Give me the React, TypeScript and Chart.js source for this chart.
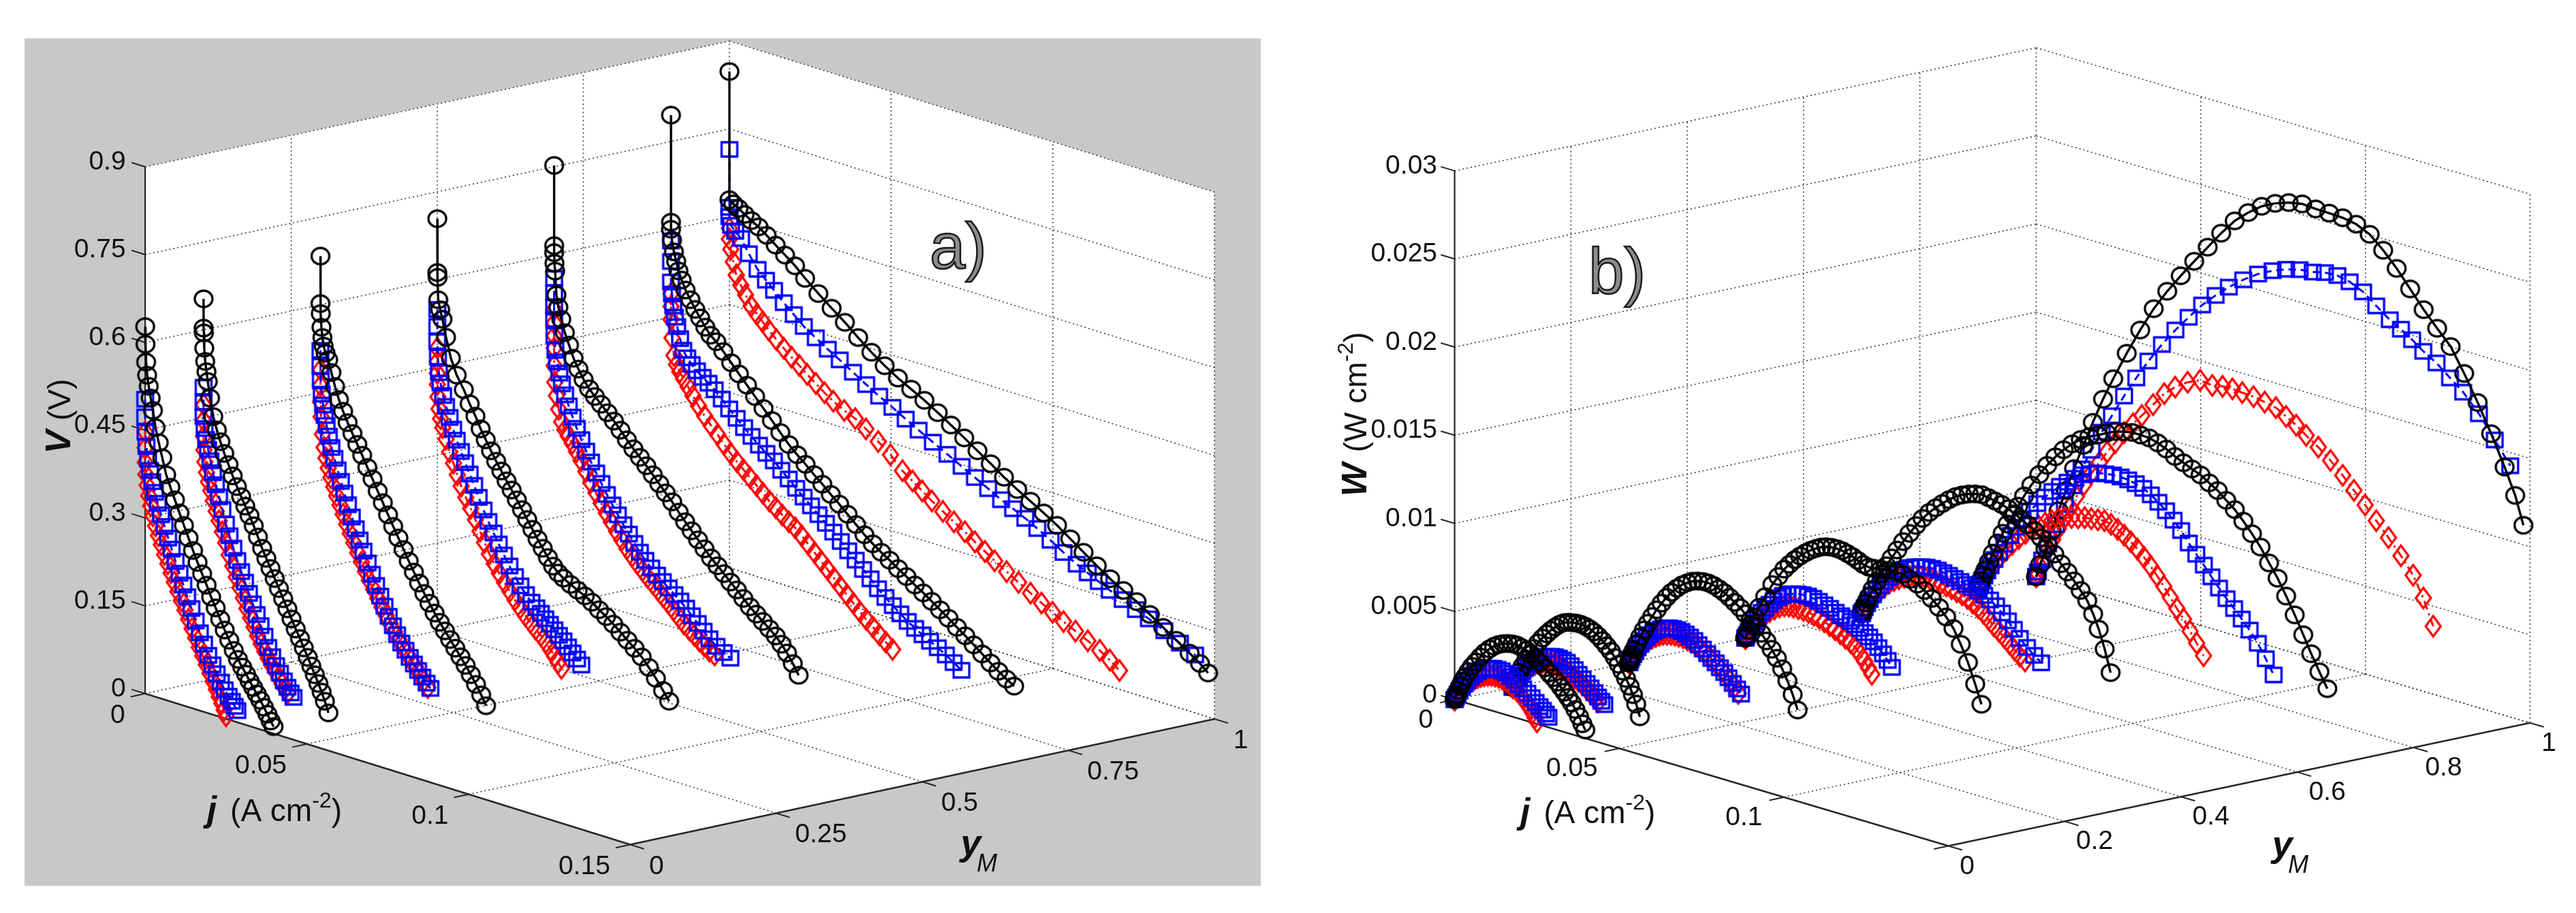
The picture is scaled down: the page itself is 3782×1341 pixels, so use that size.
import { useEffect, useRef } from "react";
import { Chart, registerables } from "chart.js";

Chart.register(...registerables);

const PAGE_H = 1341;
const HALF_W = 1891;
const FONT = '"Liberation Sans", Arial, Helvetica, sans-serif';

// methanol fraction of each group of curves
const yMGroups = [0, 0.1, 0.3, 0.5, 0.7, 0.9, 1.0];

// black circles: current density j (A cm-2) and cell voltage V (V)
const circleJ = [
  [0, 0.0001, 0.0003, 0.0006, 0.0011, 0.0017, 0.0024, 0.0032, 0.0042, 0.0053, 0.0065, 0.0078, 0.0092, 0.0106, 0.012, 0.0134, 0.0148, 0.0162, 0.0176, 0.019, 0.0204, 0.0218, 0.0232, 0.0246, 0.026, 0.0274, 0.0287, 0.03, 0.0312, 0.0323, 0.0334, 0.0345, 0.0356, 0.0367, 0.0378, 0.0388, 0.0397],
  [0, 0, 0.0001, 0.0002, 0.0005, 0.0009, 0.0013, 0.002, 0.003, 0.0041, 0.0052, 0.0064, 0.0077, 0.009, 0.0103, 0.0116, 0.0129, 0.0142, 0.0155, 0.0168, 0.0181, 0.0194, 0.0207, 0.022, 0.0233, 0.0246, 0.0259, 0.0272, 0.0285, 0.0298, 0.031, 0.0322, 0.0333, 0.0344, 0.0355, 0.0365, 0.0375, 0.0386],
  [0, 0, 0.0001, 0.0003, 0.0006, 0.001, 0.0016, 0.0024, 0.0034, 0.0045, 0.0057, 0.007, 0.0084, 0.0099, 0.0114, 0.0129, 0.0145, 0.0161, 0.0177, 0.0193, 0.0209, 0.0225, 0.0241, 0.0257, 0.0273, 0.0289, 0.0305, 0.0321, 0.0337, 0.0353, 0.0369, 0.0385, 0.0401, 0.0417, 0.0433, 0.0449, 0.0465, 0.0481, 0.0497, 0.0512],
  [0, 0, 0.0001, 0.0003, 0.0009, 0.0016, 0.0027, 0.0042, 0.006, 0.0082, 0.01, 0.0118, 0.0134, 0.015, 0.0166, 0.0182, 0.0198, 0.0214, 0.023, 0.0246, 0.0262, 0.0278, 0.0294, 0.031, 0.0326, 0.0342, 0.0358, 0.0374, 0.039, 0.0412, 0.0434, 0.0456, 0.0478, 0.05, 0.0522, 0.0544, 0.0566, 0.0588, 0.061, 0.0632, 0.0654, 0.0676, 0.0698, 0.0717],
  [0, 0, 0, 0.0001, 0.0003, 0.0007, 0.0013, 0.0022, 0.0033, 0.0046, 0.006, 0.0075, 0.0091, 0.0108, 0.0126, 0.0145, 0.0165, 0.0185, 0.0205, 0.0225, 0.0245, 0.0265, 0.0285, 0.0305, 0.0325, 0.0345, 0.0365, 0.0385, 0.0405, 0.0425, 0.0445, 0.0465, 0.0485, 0.0505, 0.0525, 0.0545, 0.0565, 0.0585, 0.0605, 0.0625, 0.0645, 0.0665, 0.0685, 0.0703, 0.072, 0.0738, 0.0756],
  [0, 0, 0, 0.0003, 0.0009, 0.0016, 0.0023, 0.0033, 0.0045, 0.006, 0.0075, 0.009, 0.0106, 0.0122, 0.014, 0.0162, 0.0186, 0.021, 0.0235, 0.026, 0.0286, 0.0312, 0.0338, 0.0364, 0.039, 0.0416, 0.0442, 0.0468, 0.0494, 0.052, 0.0546, 0.0572, 0.0598, 0.0624, 0.065, 0.0676, 0.0702, 0.0728, 0.0754, 0.078, 0.0806, 0.0832, 0.0858, 0.0884, 0.091, 0.0936, 0.0962, 0.0988, 0.1012, 0.1037, 0.1061],
  [0, 0, 0.0012, 0.0028, 0.0047, 0.0068, 0.009, 0.0115, 0.0143, 0.0172, 0.0203, 0.0234, 0.0275, 0.0316, 0.0357, 0.0398, 0.0439, 0.048, 0.0521, 0.0562, 0.0603, 0.0644, 0.0685, 0.0726, 0.0767, 0.0808, 0.0849, 0.089, 0.0931, 0.0972, 0.1013, 0.1054, 0.1095, 0.1136, 0.1177, 0.1218, 0.1259, 0.13, 0.1341, 0.1382, 0.1423, 0.1455, 0.148],
];
const circleV = [
  [0.627, 0.597, 0.567, 0.545, 0.527, 0.508, 0.488, 0.46, 0.436, 0.412, 0.385, 0.366, 0.347, 0.327, 0.308, 0.289, 0.27, 0.252, 0.235, 0.218, 0.2, 0.184, 0.167, 0.151, 0.136, 0.121, 0.108, 0.097, 0.087, 0.077, 0.068, 0.059, 0.05, 0.04, 0.03, 0.02, 0.012],
  [0.653, 0.603, 0.595, 0.569, 0.547, 0.53, 0.514, 0.487, 0.457, 0.436, 0.418, 0.4, 0.383, 0.366, 0.35, 0.335, 0.321, 0.307, 0.292, 0.275, 0.258, 0.243, 0.228, 0.213, 0.198, 0.183, 0.168, 0.153, 0.138, 0.124, 0.11, 0.096, 0.083, 0.07, 0.057, 0.044, 0.03, 0.012],
  [0.683, 0.602, 0.585, 0.562, 0.545, 0.531, 0.52, 0.51, 0.49, 0.468, 0.448, 0.43, 0.413, 0.397, 0.381, 0.365, 0.347, 0.33, 0.312, 0.295, 0.277, 0.26, 0.243, 0.226, 0.209, 0.193, 0.177, 0.162, 0.148, 0.134, 0.121, 0.109, 0.097, 0.085, 0.073, 0.061, 0.048, 0.034, 0.019, 0.003],
  [0.704, 0.612, 0.604, 0.566, 0.55, 0.535, 0.506, 0.473, 0.447, 0.426, 0.405, 0.387, 0.368, 0.352, 0.336, 0.321, 0.307, 0.293, 0.28, 0.266, 0.252, 0.238, 0.224, 0.21, 0.197, 0.184, 0.172, 0.163, 0.157, 0.15, 0.144, 0.138, 0.131, 0.122, 0.114, 0.105, 0.095, 0.085, 0.075, 0.064, 0.05, 0.035, 0.018, 0.003],
  [0.752, 0.615, 0.603, 0.585, 0.572, 0.532, 0.512, 0.493, 0.472, 0.453, 0.433, 0.417, 0.402, 0.389, 0.379, 0.369, 0.358, 0.347, 0.335, 0.322, 0.31, 0.299, 0.288, 0.276, 0.264, 0.252, 0.24, 0.226, 0.213, 0.201, 0.189, 0.177, 0.165, 0.155, 0.145, 0.134, 0.124, 0.113, 0.102, 0.093, 0.084, 0.075, 0.066, 0.055, 0.043, 0.028, 0.011],
  [0.795, 0.612, 0.6, 0.582, 0.563, 0.548, 0.533, 0.519, 0.504, 0.49, 0.476, 0.464, 0.451, 0.44, 0.432, 0.419, 0.404, 0.389, 0.374, 0.359, 0.343, 0.327, 0.311, 0.295, 0.282, 0.27, 0.257, 0.245, 0.232, 0.22, 0.207, 0.194, 0.181, 0.17, 0.16, 0.151, 0.141, 0.132, 0.122, 0.113, 0.103, 0.093, 0.083, 0.072, 0.062, 0.051, 0.04, 0.029, 0.019, 0.01, 0.002],
  [0.848, 0.629, 0.624, 0.619, 0.612, 0.605, 0.598, 0.588, 0.576, 0.564, 0.551, 0.535, 0.516, 0.498, 0.481, 0.462, 0.444, 0.428, 0.414, 0.402, 0.39, 0.376, 0.362, 0.347, 0.332, 0.317, 0.301, 0.287, 0.274, 0.261, 0.247, 0.231, 0.215, 0.199, 0.184, 0.171, 0.159, 0.144, 0.129, 0.114, 0.099, 0.087, 0.075],
];

// blue squares
const squareJ = [
  [0, 0, 0.0001, 0.0004, 0.0009, 0.0015, 0.0022, 0.003, 0.0039, 0.0049, 0.006, 0.0071, 0.0082, 0.0094, 0.0106, 0.0118, 0.013, 0.0143, 0.0156, 0.0169, 0.0182, 0.0195, 0.0208, 0.0221, 0.0234, 0.0246, 0.0258, 0.0268, 0.0277, 0.0285],
  [0, 0, 0, 0.0003, 0.0008, 0.0014, 0.0021, 0.0029, 0.0038, 0.0048, 0.0058, 0.0069, 0.008, 0.0092, 0.0104, 0.0116, 0.0128, 0.014, 0.0152, 0.0164, 0.0176, 0.0188, 0.02, 0.0212, 0.0224, 0.0236, 0.0248, 0.0259, 0.0269, 0.0278],
  [0, 0, 0.0001, 0.0004, 0.0008, 0.0013, 0.0019, 0.0026, 0.0034, 0.0043, 0.0053, 0.0063, 0.0074, 0.0085, 0.0097, 0.0109, 0.0121, 0.0133, 0.0146, 0.0159, 0.0172, 0.0185, 0.0198, 0.0211, 0.0224, 0.0237, 0.025, 0.0263, 0.0276, 0.0289, 0.0302, 0.0315, 0.0328, 0.034],
  [0, 0, 0, 0.0002, 0.0005, 0.001, 0.0018, 0.0027, 0.0038, 0.0049, 0.006, 0.0073, 0.0086, 0.01, 0.0114, 0.0128, 0.0143, 0.0158, 0.0174, 0.019, 0.0206, 0.0223, 0.024, 0.0257, 0.0274, 0.0291, 0.0306, 0.032, 0.0334, 0.0348, 0.0362, 0.0376, 0.039, 0.0404, 0.0418, 0.0432, 0.0445],
  [0, 0, 0, 0, 0.0001, 0.0004, 0.0009, 0.0016, 0.0024, 0.0034, 0.0045, 0.0057, 0.007, 0.0084, 0.0099, 0.0114, 0.013, 0.0146, 0.0163, 0.018, 0.0197, 0.0214, 0.0231, 0.0248, 0.0265, 0.0282, 0.03, 0.0318, 0.0336, 0.0354, 0.0372, 0.039, 0.0408, 0.0426, 0.0444, 0.0462, 0.048, 0.0502, 0.0524, 0.0545],
  [0, 0, 0, 0.0003, 0.0007, 0.0012, 0.0019, 0.0028, 0.0038, 0.005, 0.0064, 0.008, 0.0098, 0.0116, 0.0135, 0.0157, 0.018, 0.0203, 0.0226, 0.0249, 0.0272, 0.0295, 0.0318, 0.0341, 0.0364, 0.0387, 0.041, 0.0433, 0.0456, 0.0479, 0.0502, 0.0525, 0.0548, 0.0571, 0.0594, 0.0617, 0.064, 0.0663, 0.0686, 0.0709, 0.0732, 0.0755, 0.0778, 0.0801, 0.0825, 0.085, 0.0874, 0.0898],
  [0, 0, 0, 0.0005, 0.0018, 0.0036, 0.006, 0.0087, 0.0113, 0.0138, 0.0168, 0.0199, 0.023, 0.0267, 0.0304, 0.0341, 0.0382, 0.0423, 0.0463, 0.0504, 0.0545, 0.0585, 0.0629, 0.0674, 0.0718, 0.0759, 0.08, 0.084, 0.0877, 0.0915, 0.0952, 0.0993, 0.1033, 0.1074, 0.1108, 0.1142, 0.1176, 0.1216, 0.1257, 0.1297, 0.1345, 0.1393, 0.144],
];
const squareV = [
  [0.503, 0.473, 0.447, 0.423, 0.402, 0.384, 0.366, 0.349, 0.332, 0.314, 0.296, 0.278, 0.261, 0.242, 0.224, 0.206, 0.188, 0.17, 0.151, 0.133, 0.116, 0.099, 0.085, 0.072, 0.06, 0.049, 0.04, 0.033, 0.026, 0.02],
  [0.502, 0.476, 0.452, 0.432, 0.414, 0.398, 0.38, 0.361, 0.342, 0.323, 0.303, 0.28, 0.262, 0.243, 0.224, 0.207, 0.191, 0.174, 0.158, 0.142, 0.125, 0.109, 0.092, 0.078, 0.065, 0.054, 0.043, 0.034, 0.026, 0.02],
  [0.522, 0.495, 0.47, 0.448, 0.43, 0.413, 0.397, 0.38, 0.362, 0.345, 0.327, 0.309, 0.291, 0.273, 0.254, 0.236, 0.219, 0.202, 0.184, 0.167, 0.15, 0.134, 0.119, 0.104, 0.09, 0.077, 0.065, 0.055, 0.045, 0.036, 0.027, 0.018, 0.01, 0.003],
  [0.549, 0.52, 0.494, 0.468, 0.442, 0.425, 0.405, 0.388, 0.371, 0.353, 0.336, 0.319, 0.302, 0.285, 0.268, 0.25, 0.231, 0.214, 0.197, 0.181, 0.165, 0.149, 0.134, 0.121, 0.109, 0.099, 0.092, 0.085, 0.078, 0.071, 0.064, 0.057, 0.05, 0.042, 0.034, 0.026, 0.018],
  [0.559, 0.535, 0.51, 0.489, 0.462, 0.437, 0.418, 0.4, 0.383, 0.366, 0.349, 0.332, 0.315, 0.298, 0.281, 0.265, 0.249, 0.234, 0.218, 0.203, 0.189, 0.175, 0.162, 0.149, 0.137, 0.126, 0.116, 0.107, 0.099, 0.091, 0.083, 0.075, 0.066, 0.056, 0.046, 0.036, 0.026, 0.017, 0.01, 0.004],
  [0.58, 0.545, 0.51, 0.49, 0.47, 0.452, 0.437, 0.418, 0.4, 0.389, 0.38, 0.372, 0.364, 0.357, 0.349, 0.337, 0.324, 0.312, 0.3, 0.289, 0.278, 0.268, 0.259, 0.247, 0.236, 0.224, 0.213, 0.202, 0.191, 0.18, 0.169, 0.157, 0.145, 0.133, 0.121, 0.109, 0.096, 0.085, 0.075, 0.065, 0.056, 0.048, 0.041, 0.034, 0.027, 0.019, 0.01, 0.001],
  [0.715, 0.616, 0.6, 0.586, 0.578, 0.569, 0.547, 0.525, 0.511, 0.498, 0.482, 0.467, 0.452, 0.439, 0.426, 0.414, 0.4, 0.386, 0.373, 0.361, 0.348, 0.336, 0.323, 0.31, 0.297, 0.285, 0.273, 0.261, 0.252, 0.242, 0.231, 0.218, 0.204, 0.191, 0.182, 0.173, 0.164, 0.155, 0.145, 0.136, 0.124, 0.111, 0.099],
];

// red diamonds
const diamondJ = [
  [0, 0, 0, 0.0002, 0.0006, 0.0011, 0.0017, 0.0024, 0.0032, 0.0041, 0.005, 0.006, 0.007, 0.008, 0.009, 0.0101, 0.0112, 0.0123, 0.0134, 0.0145, 0.0156, 0.0167, 0.0178, 0.0189, 0.02, 0.021, 0.022, 0.0229, 0.0237, 0.0244, 0.025],
  [0, 0, 0, 0.0001, 0.0004, 0.0009, 0.0015, 0.0022, 0.003, 0.0039, 0.0048, 0.0058, 0.0068, 0.0079, 0.009, 0.0101, 0.0112, 0.0123, 0.0134, 0.0145, 0.0156, 0.0167, 0.0178, 0.0189, 0.02, 0.0211, 0.0222, 0.0233, 0.0243, 0.0252, 0.026],
  [0, 0, 0, 0.0002, 0.0006, 0.0011, 0.0017, 0.0024, 0.0032, 0.0041, 0.005, 0.006, 0.007, 0.0081, 0.0092, 0.0103, 0.0115, 0.0127, 0.0139, 0.0151, 0.0164, 0.0177, 0.019, 0.0203, 0.0216, 0.0229, 0.0242, 0.0255, 0.0268, 0.0281, 0.0294, 0.0307, 0.032, 0.0332],
  [0, 0, 0, 0, 0.0002, 0.0005, 0.001, 0.0017, 0.0027, 0.0038, 0.005, 0.0062, 0.0074, 0.0088, 0.0103, 0.0118, 0.0132, 0.0146, 0.0161, 0.0176, 0.0192, 0.0208, 0.0224, 0.024, 0.0256, 0.0272, 0.0288, 0.0304, 0.032, 0.0336, 0.035, 0.0362, 0.0374, 0.0384],
  [0, 0, 0, 0, 0, 0.0002, 0.0007, 0.0014, 0.0023, 0.0033, 0.0044, 0.0056, 0.0069, 0.0083, 0.0098, 0.0113, 0.0129, 0.0145, 0.0161, 0.0177, 0.0193, 0.0209, 0.0225, 0.0241, 0.0257, 0.0273, 0.0289, 0.0305, 0.0321, 0.0337, 0.0353, 0.0369, 0.0385, 0.0401, 0.0417, 0.0433, 0.0449, 0.0464, 0.048, 0.0496],
  [0, 0, 0, 0.0003, 0.0009, 0.0017, 0.0027, 0.0039, 0.0053, 0.0068, 0.0085, 0.0104, 0.0124, 0.0144, 0.0164, 0.0184, 0.0204, 0.0224, 0.0244, 0.0264, 0.0284, 0.0304, 0.0324, 0.0344, 0.0364, 0.0384, 0.0404, 0.0424, 0.0444, 0.0464, 0.0484, 0.0504, 0.0524, 0.0544, 0.0564, 0.0584, 0.0604, 0.0624, 0.0644, 0.0664, 0.0685],
  [0, 0, 0.0004, 0.0012, 0.0021, 0.0035, 0.005, 0.0067, 0.0085, 0.0103, 0.0122, 0.0145, 0.0168, 0.0192, 0.0216, 0.024, 0.0267, 0.0294, 0.0321, 0.0355, 0.0389, 0.0422, 0.046, 0.0498, 0.0535, 0.0566, 0.0596, 0.0626, 0.066, 0.0694, 0.0728, 0.0759, 0.079, 0.082, 0.0857, 0.0894, 0.0931, 0.0965, 0.0999, 0.1033, 0.107, 0.1108, 0.1145, 0.1176, 0.1206],
];
const diamondV = [
  [0.447, 0.42, 0.395, 0.375, 0.357, 0.34, 0.324, 0.308, 0.292, 0.277, 0.263, 0.248, 0.234, 0.22, 0.206, 0.192, 0.178, 0.164, 0.15, 0.136, 0.122, 0.108, 0.095, 0.082, 0.069, 0.057, 0.045, 0.034, 0.024, 0.014, 0.005],
  [0.472, 0.445, 0.418, 0.395, 0.375, 0.358, 0.343, 0.329, 0.313, 0.297, 0.282, 0.265, 0.248, 0.229, 0.212, 0.195, 0.179, 0.163, 0.147, 0.133, 0.119, 0.106, 0.094, 0.083, 0.073, 0.063, 0.054, 0.045, 0.037, 0.03, 0.024],
  [0.489, 0.462, 0.434, 0.409, 0.38, 0.358, 0.341, 0.325, 0.31, 0.296, 0.282, 0.268, 0.254, 0.239, 0.225, 0.211, 0.196, 0.182, 0.168, 0.155, 0.142, 0.129, 0.116, 0.104, 0.092, 0.081, 0.07, 0.06, 0.05, 0.041, 0.032, 0.022, 0.012, 0.003],
  [0.483, 0.46, 0.44, 0.421, 0.4, 0.38, 0.364, 0.35, 0.332, 0.312, 0.295, 0.277, 0.26, 0.243, 0.227, 0.21, 0.193, 0.176, 0.159, 0.145, 0.131, 0.118, 0.106, 0.094, 0.083, 0.073, 0.064, 0.055, 0.047, 0.038, 0.028, 0.019, 0.01, 0.002],
  [0.506, 0.483, 0.461, 0.44, 0.41, 0.382, 0.36, 0.338, 0.318, 0.306, 0.297, 0.287, 0.275, 0.262, 0.246, 0.23, 0.215, 0.2, 0.186, 0.173, 0.16, 0.148, 0.136, 0.126, 0.116, 0.107, 0.098, 0.09, 0.082, 0.073, 0.065, 0.056, 0.047, 0.038, 0.031, 0.024, 0.017, 0.011, 0.005, 0.001],
  [0.49, 0.468, 0.446, 0.415, 0.386, 0.372, 0.361, 0.351, 0.34, 0.327, 0.313, 0.299, 0.286, 0.274, 0.261, 0.249, 0.238, 0.228, 0.218, 0.208, 0.198, 0.188, 0.18, 0.171, 0.163, 0.156, 0.146, 0.135, 0.124, 0.113, 0.102, 0.091, 0.08, 0.069, 0.058, 0.047, 0.037, 0.028, 0.018, 0.009, 0.0],
  [0.58, 0.562, 0.545, 0.525, 0.504, 0.489, 0.475, 0.459, 0.448, 0.438, 0.427, 0.415, 0.404, 0.393, 0.383, 0.372, 0.361, 0.35, 0.34, 0.33, 0.322, 0.31, 0.295, 0.279, 0.258, 0.246, 0.234, 0.222, 0.21, 0.198, 0.187, 0.175, 0.164, 0.153, 0.141, 0.129, 0.117, 0.106, 0.096, 0.086, 0.076, 0.066, 0.056, 0.045, 0.032],
];

// axis ticks
const jTicks = [0, 0.05, 0.1, 0.15];
const jTickLabelsA = ["0", "0.05", "0.1", "0.15"];
const jTickLabelsB = ["0", "0.05", "0.1", ""];
const yTicksA = [0, 0.25, 0.5, 0.75, 1];
const yTickLabelsA = ["0", "0.25", "0.5", "0.75", "1"];
const yTicksB = [0, 0.2, 0.4, 0.6, 0.8, 1];
const yTickLabelsB = ["0", "0.2", "0.4", "0.6", "0.8", "1"];
const vTicks = [0, 0.15, 0.3, 0.45, 0.6, 0.75, 0.9];
const vTickLabels = ["0", "0.15", "0.3", "0.45", "0.6", "0.75", "0.9"];
const wTicks = [0, 0.005, 0.01, 0.015, 0.02, 0.025, 0.03];
const wTickLabels = ["0", "0.005", "0.01", "0.015", "0.02", "0.025", "0.03"];

// where the 3-D box of each panel lands on the page
interface Box {
  ox: number; oy: number; // (j=0, yM=0, z=0)
  jx: number; jy: number; // shift over the whole j range
  yx: number; yy: number; // shift over yM 0..1
  zh: number;             // height of the whole z range
  jMax: number; zMax: number;
}
const boxA: Box = { ox: 201, oy: 1027, jx: 724, jy: 227, yx: 872, yy: -189, zh: 792, jMax: 0.15, zMax: 0.9 };
const boxB: Box = { ox: 2124, oy: 1036, jx: 737, jy: 220, yx: 868, yy: -185, zh: 795, jMax: 0.15, zMax: 0.03 };

const proj = (b: Box, j: number, y: number, z: number) => ({
  x: b.ox + (j / b.jMax) * b.jx + y * b.yx,
  y: b.oy + (j / b.jMax) * b.jy + y * b.yy - (z / b.zMax) * b.zh,
});

// hollow marker glyphs, drawn once and used as point styles
function markerGlyph(kind: string, color: string) {
  const c = document.createElement("canvas");
  const w = kind === "circle" ? 26 : kind === "rect" ? 23 : 22;
  const h = kind === "circle" ? 24 : kind === "rect" ? 21 : 30;
  c.width = w + 8;
  c.height = h + 8;
  const g = c.getContext("2d")!;
  g.strokeStyle = color;
  g.lineWidth = 3.3;
  g.beginPath();
  const cx = c.width / 2;
  const cy = c.height / 2;
  if (kind === "circle") g.ellipse(cx, cy, w / 2, h / 2, 0, 0, Math.PI * 2);
  else if (kind === "rect") g.rect(cx - w / 2, cy - h / 2, w, h);
  else {
    g.moveTo(cx, cy - h / 2);
    g.lineTo(cx + w / 2, cy);
    g.lineTo(cx, cy + h / 2);
    g.lineTo(cx - w / 2, cy);
    g.closePath();
  }
  g.stroke();
  return c;
}

const SERIES = [
  { js: circleJ, vs: circleV, color: "#000000", style: "circle", width: 3.4, dash: [] as number[] },
  { js: squareJ, vs: squareV, color: "#0000ff", style: "rect", width: 3, dash: [11, 7] },
  { js: diamondJ, vs: diamondV, color: "#ff0000", style: "diamond", width: 3, dash: [13, 6, 3, 6] },
];

interface PanelSpec {
  box: Box;
  power: boolean;
  yTicks: number[];
  yLabels: string[];
  zTicks: number[];
  zLabels: string[];
  jLabels: string[];
  x0: number;
}

function segment(p: { x: number; y: number }, q: { x: number; y: number }, color: string, width: number, dash: number[], order: number) {
  return {
    data: [p, q],
    showLine: true,
    borderColor: color,
    borderWidth: width,
    borderDash: dash,
    pointRadius: 0,
    order,
  };
}

function buildDatasets(s: PanelSpec) {
  const b = s.box;
  const P = (j: number, y: number, z: number) => proj(b, j, y, z);
  const ds: any[] = [];
  const grid = "#3c3c3c";
  const gdash = [2, 4];
  for (const z of s.zTicks) {
    ds.push(segment(P(0, 0, z), P(0, 1, z), grid, 1.6, gdash, 300));
    ds.push(segment(P(0, 1, z), P(b.jMax, 1, z), grid, 1.6, gdash, 300));
  }
  for (const y of s.yTicks) {
    if (y === 0) continue;
    ds.push(segment(P(0, y, 0), P(0, y, b.zMax), grid, 1.6, gdash, 300));
    ds.push(segment(P(0, y, 0), P(b.jMax, y, 0), grid, 1.6, gdash, 300));
  }
  for (const j of jTicks) {
    if (j === 0) continue;
    ds.push(segment(P(j, 1, 0), P(j, 1, b.zMax), grid, 1.6, gdash, 300));
    if (j < b.jMax) ds.push(segment(P(j, 0, 0), P(j, 1, 0), grid, 1.6, gdash, 300));
  }
  const ax = "#262626";
  ds.push(segment(P(0, 0, 0), P(0, 0, b.zMax), ax, 2.2, [], 200));
  ds.push(segment(P(0, 0, 0), P(b.jMax, 0, 0), ax, 2.6, [], 200));
  ds.push(segment(P(b.jMax, 0, 0), P(b.jMax, 1, 0), ax, 2.6, [], 200));
  const tj = b.jMax * 0.028;
  for (const z of s.zTicks) ds.push(segment(P(0, 0, z), P(-tj, 0, z), ax, 2, [], 200));
  for (const j of jTicks) ds.push(segment(P(j, 0, 0), P(j, -0.025, 0), ax, 2, [], 200));
  for (const y of s.yTicks) ds.push(segment(P(b.jMax, y, 0), P(b.jMax + tj, y, 0), ax, 2, [], 200));

  yMGroups.forEach((yM, g) => {
    SERIES.forEach((ser, k) => {
      const js = ser.js[g];
      const vs = ser.vs[g];
      const n = Math.min(js.length, vs.length);
      const data = [];
      for (let i = 0; i < n; i++) {
        // panel b shows the power density W = j * V of the same points
        const z = s.power ? js[i] * vs[i] : vs[i];
        data.push(P(js[i], yM, z));
      }
      ds.push({
        data,
        showLine: true,
        borderColor: ser.color,
        borderWidth: ser.width,
        borderDash: ser.dash,
        pointStyle: markerGlyph(ser.style, ser.color),
        pointRadius: 12,
        order: g * 3 + k,
      });
    });
  });
  return ds;
}

type Part = { t?: string; font?: string; dy?: number; gap?: number };

function partsWidth(ctx: CanvasRenderingContext2D, parts: Part[]) {
  let w = 0;
  for (const p of parts) {
    if (p.gap) w += p.gap;
    else {
      ctx.font = p.font!;
      w += ctx.measureText(p.t!).width;
    }
  }
  return w;
}

function drawParts(ctx: CanvasRenderingContext2D, parts: Part[], x: number, y: number) {
  let cx = x;
  for (const p of parts) {
    if (p.gap) { cx += p.gap; continue; }
    ctx.font = p.font!;
    ctx.fillText(p.t!, cx, y + (p.dy || 0));
    cx += ctx.measureText(p.t!).width;
  }
}

const bi = (n: number) => `bold italic ${n}px ${FONT}`;
const rg = (n: number) => `${n}px ${FONT}`;
const it = (n: number) => `italic ${n}px ${FONT}`;

function makePlugin(s: PanelSpec, gray: boolean, letter: string, geo: any) {
  return {
    id: "paper" + letter,
    beforeDraw(chart: any) {
      const ctx = chart.ctx as CanvasRenderingContext2D;
      const X = (v: number) => chart.scales.x.getPixelForValue(v);
      const Y = (v: number) => chart.scales.y.getPixelForValue(v);
      const b = s.box;
      ctx.save();
      ctx.fillStyle = "#ffffff";
      ctx.fillRect(0, 0, chart.width, chart.height);
      if (gray) {
        ctx.fillStyle = "#c8c8c8";
        ctx.fillRect(X(21), Y(42), X(1866) - X(21), Y(1316) - Y(42));
        const corners = [
          proj(b, 0, 0, b.zMax), proj(b, 0, 1, b.zMax), proj(b, b.jMax, 1, b.zMax),
          proj(b, b.jMax, 1, 0), proj(b, b.jMax, 0, 0), proj(b, 0, 0, 0),
        ];
        ctx.fillStyle = "#ffffff";
        ctx.beginPath();
        corners.forEach((c, i) => (i ? ctx.lineTo(X(c.x), Y(c.y)) : ctx.moveTo(X(c.x), Y(c.y))));
        ctx.closePath();
        ctx.fill();
      }
      ctx.restore();
    },
    afterDraw(chart: any) {
      const ctx = chart.ctx as CanvasRenderingContext2D;
      const X = (v: number) => chart.scales.x.getPixelForValue(v);
      const Y = (v: number) => chart.scales.y.getPixelForValue(v);
      const b = s.box;
      ctx.save();
      ctx.fillStyle = "#111111";
      ctx.font = rg(39);
      ctx.textBaseline = "middle";
      ctx.textAlign = "right";
      s.zTicks.forEach((z, i) => {
        const p = proj(b, 0, 0, z);
        ctx.fillText(s.zLabels[i], X(p.x - geo.zDx), Y(p.y - 7));
      });
      jTicks.forEach((j, i) => {
        const p = proj(b, j, 0, 0);
        if (s.jLabels[i]) ctx.fillText(s.jLabels[i], X(p.x - geo.jDx), Y(p.y + geo.jDy));
      });
      ctx.textAlign = "left";
      s.yTicks.forEach((y, i) => {
        const p = proj(b, b.jMax, y, 0);
        ctx.fillText(s.yLabels[i], X(p.x + geo.yDx), Y(p.y + geo.yDy));
      });

      ctx.textBaseline = "alphabetic";
      // vertical title
      const zParts: Part[] = geo.zParts;
      const zw = partsWidth(ctx, zParts);
      ctx.save();
      ctx.translate(X(geo.zTitle[0]), Y(geo.zTitle[1]));
      ctx.rotate(-Math.PI / 2);
      drawParts(ctx, zParts, -zw / 2, 0);
      ctx.restore();
      // j title
      drawParts(ctx, [
        { t: "j", font: bi(52) }, { gap: 20 }, { t: "(A cm", font: rg(46) },
        { t: "-2", font: rg(32), dy: -20 }, { t: ")", font: rg(46) },
      ], X(geo.jTitle[0]), Y(geo.jTitle[1]));
      // yM title
      ctx.font = bi(54);
      ctx.fillText("y", X(geo.yTitle[0]), Y(geo.yTitle[1]));
      ctx.font = it(36);
      ctx.fillText("M", X(geo.yTitle[0] + 24), Y(geo.yTitle[1] + 24));
      // panel letter
      ctx.font = rg(94);
      ctx.lineWidth = 2.5;
      ctx.strokeStyle = "#1a1a1a";
      ctx.fillStyle = "#8c8c8c";
      ctx.fillText(letter + ")", X(geo.letter[0]), Y(geo.letter[1]));
      ctx.strokeText(letter + ")", X(geo.letter[0]), Y(geo.letter[1]));
      ctx.restore();
    },
  };
}

const specA: PanelSpec = {
  box: boxA, power: false, yTicks: yTicksA, yLabels: yTickLabelsA,
  zTicks: vTicks, zLabels: vTickLabels, jLabels: jTickLabelsA, x0: 0,
};
const specB: PanelSpec = {
  box: boxB, power: true, yTicks: yTicksB, yLabels: yTickLabelsB,
  zTicks: wTicks, zLabels: wTickLabels, jLabels: jTickLabelsB, x0: HALF_W,
};

const geoA = {
  zDx: 29, jDx: 30, jDy: 33, yDx: 28, yDy: 33,
  zParts: [{ t: "V", font: bi(52) }, { gap: 14 }, { t: "(V)", font: rg(46) }] as Part[],
  zTitle: [89, 610], jTitle: [293, 1219], yTitle: [1418, 1270], letter: [1372, 388],
};
const geoB = {
  zDx: 26, jDx: 32, jDy: 31, yDx: 17, yDy: 31,
  zParts: [
    { t: "W", font: bi(52) }, { gap: 16 }, { t: "(W cm", font: rg(46) },
    { t: "-2", font: rg(32), dy: -20 }, { t: ")", font: rg(46) },
  ] as Part[],
  zTitle: [1992, 607], jTitle: [2222, 1222], yTitle: [3344, 1272], letter: [2324, 425],
};

function Panel({ spec, gray, letter, geo }: { spec: PanelSpec; gray: boolean; letter: string; geo: any }) {
  const ref = useRef<HTMLCanvasElement>(null);
  useEffect(() => {
    if (!ref.current) return;
    const chart = new Chart(ref.current, {
      type: "scatter",
      data: { datasets: buildDatasets(spec) },
      options: {
        animation: false,
        responsive: false,
        events: [],
        layout: { padding: 0 },
        plugins: { legend: { display: false }, tooltip: { enabled: false } },
        elements: { line: { tension: 0 } },
        scales: {
          x: { type: "linear", min: spec.x0, max: spec.x0 + HALF_W, display: false },
          y: { type: "linear", min: 0, max: PAGE_H, reverse: true, display: false },
        },
      },
      plugins: [makePlugin(spec, gray, letter, geo)],
    } as any);
    return () => chart.destroy();
  }, []);
  return (
    <canvas
      ref={ref}
      width={HALF_W}
      height={PAGE_H}
      style={{ position: "absolute", left: spec.x0, top: 0, width: HALF_W, height: PAGE_H }}
    />
  );
}

export default function App() {
  return (
    <div style={{ position: "absolute", left: 0, top: 0, width: HALF_W * 2, height: PAGE_H, background: "#ffffff" }}>
      <Panel spec={specA} gray={true} letter="a" geo={geoA} />
      <Panel spec={specB} gray={false} letter="b" geo={geoB} />
    </div>
  );
}
